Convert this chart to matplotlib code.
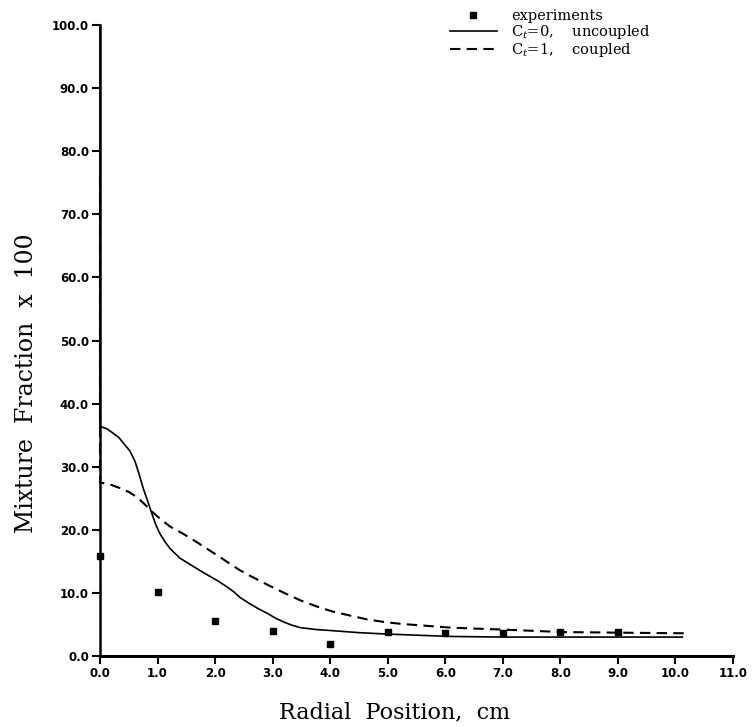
import matplotlib
matplotlib.use("Agg")
import matplotlib.pyplot as plt

# experimental points
exp_x = [0.0, 1.0, 2.0, 3.0, 4.0, 5.0, 6.0, 7.0, 8.0, 9.0]
exp_y = [15.8, 10.1, 5.5, 3.9, 1.9, 3.8, 3.7, 3.6, 3.8, 3.8]

# Ct=0, uncoupled
unc_x = [0.0, 0.0, 0.12, 0.23, 0.33, 0.41, 0.52, 0.61, 0.68, 0.75, 0.83, 0.9, 0.97, 1.04, 1.13, 1.22,
         1.39, 1.62, 1.8, 2.03, 2.2, 2.32, 2.43, 2.6, 2.75, 2.9, 3.05, 3.19, 3.33, 3.48, 3.75, 4.06,
         4.5, 4.93, 5.5, 6.09, 7.0, 8.0, 9.0, 10.12]
unc_y = [100.0, 36.4, 36.0, 35.3, 34.6, 33.7, 32.5, 30.8, 28.8, 26.6, 24.5, 22.6, 20.8, 19.4, 18.1, 17.0,
         15.5, 14.2, 13.2, 12.0, 11.0, 10.2, 9.3, 8.3, 7.5, 6.8, 6.0, 5.4, 4.9, 4.5, 4.2, 4.0,
         3.7, 3.5, 3.3, 3.1, 3.0, 3.0, 3.0, 3.0]

# Ct=1, coupled
cpl_x = [0.0, 0.0, 0.17, 0.35, 0.5, 0.64, 0.77, 0.9, 1.05, 1.22, 1.4, 1.57, 1.74, 1.91, 2.08, 2.26,
         2.43, 2.61, 2.78, 2.93, 3.2, 3.5, 3.78, 4.06, 4.35, 4.64, 4.93, 5.22, 5.65, 6.09, 6.5,
         6.96, 7.5, 8.0, 9.0, 10.17]
cpl_y = [76.0, 27.5, 27.2, 26.6, 26.0, 25.2, 24.1, 22.9, 21.7, 20.5, 19.6, 18.7, 17.7, 16.7, 15.7, 14.6,
         13.6, 12.7, 11.9, 11.2, 10.0, 8.75, 7.8, 7.0, 6.4, 5.8, 5.4, 5.1, 4.8, 4.5, 4.35,
         4.2, 4.0, 3.8, 3.7, 3.6]

xticks = [0, 1, 2, 3, 4, 5, 6, 7, 8, 9, 10, 11]
yticks = [0, 10, 20, 30, 40, 50, 60, 70, 80, 90, 100]

plt.rcParams['mathtext.fontset'] = 'dejavuserif'

W, H = 753, 727
fig = plt.figure(figsize=(W / 100, H / 100), dpi=100)
ax = fig.add_axes([100 / W, 1 - 656 / H, 633 / W, 631 / H])

ax.plot(exp_x, exp_y, ls="none", marker="s", ms=4.5, c="black", label="experiments", clip_on=False)
ax.plot(unc_x, unc_y, lw=1.2, c="black", label="C$_t$=0,    uncoupled", clip_on=False)
ax.plot(cpl_x, cpl_y, lw=1.5, c="black", ls=(0, (5, 3)), label="C$_t$=1,    coupled", clip_on=False)

ax.set_xlim(0, 11)
ax.set_ylim(0, 100)
ax.set_xticks(xticks)
ax.set_xticklabels(["%.1f" % v for v in xticks])
ax.set_yticks(yticks)
ax.set_yticklabels(["%.1f" % v for v in yticks])

for s in ["top", "right"]:
    ax.spines[s].set_visible(False)
ax.spines["left"].set_linewidth(1.8)
ax.spines["bottom"].set_linewidth(2.2)
ax.tick_params(direction="out", length=6, width=1.5, pad=2)
for lab in ax.get_xticklabels() + ax.get_yticklabels():
    lab.set_fontfamily("DejaVu Sans")
    lab.set_fontweight("bold")
    lab.set_fontsize(8.5)

fig.text(395 / W, 1 - 712 / H, "Radial  Position,  cm", ha="center", va="center",
         family="DejaVu Serif", fontsize=16)
fig.text(27 / W, 1 - 383 / H, "Mixture  Fraction  x  100", ha="center", va="center",
         rotation=90, family="DejaVu Serif", fontsize=17)

leg = ax.legend(loc="upper left", bbox_to_anchor=(450 / W, 1 - 9 / H), bbox_transform=fig.transFigure,
                frameon=False, prop={"family": "DejaVu Serif", "size": 10.5},
                handlelength=3.2, handletextpad=1.0, labelspacing=0.0, borderpad=0, borderaxespad=0)

plt.savefig("out.png", dpi=100)
